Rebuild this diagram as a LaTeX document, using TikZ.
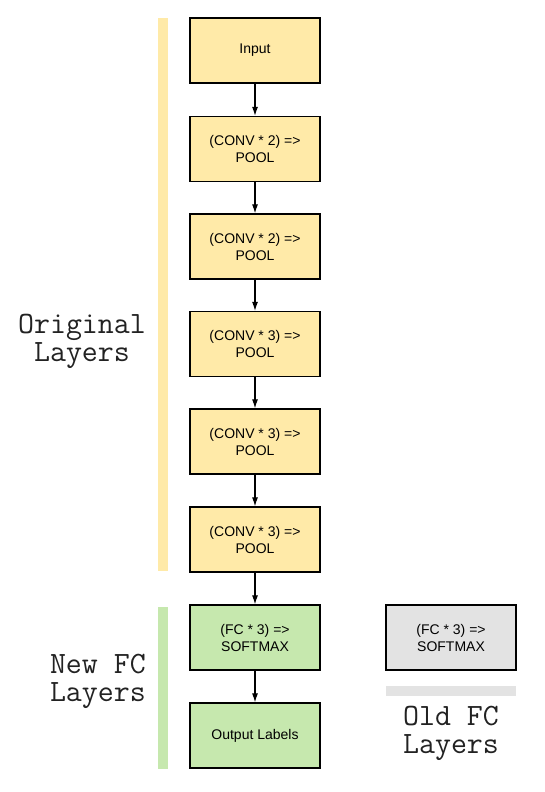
\documentclass[tikz,border=0pt]{standalone}
\usepackage{fontspec}
\setmainfont{Liberation Sans}
\usetikzlibrary{arrows.meta}
\definecolor{ylw}{HTML}{FFEAA8}
\definecolor{grn}{HTML}{C6E8AE}
\definecolor{gry}{HTML}{E3E3E3}
\definecolor{ink}{HTML}{222222}
\begin{document}
\begin{tikzpicture}[x=1pt,y=-1pt,
  layer/.style={draw=black, line width=1.3pt, minimum width=130pt, minimum height=65pt, inner sep=0pt, align=center, font=\fontsize{14}{17}\selectfont},
  yl/.style={layer, fill=ylw},
  gn/.style={layer, fill=grn},
  gy/.style={layer, fill=gry},
  conn/.style={line width=1.1pt, -{Latex[length=9pt,width=6pt]}},
  grp/.style={font=\ttfamily\fontsize{31}{28}\selectfont, text=ink, align=center, inner sep=0pt}
]
\useasboundingbox (0,0) rectangle (545,792);
\fill[ylw] (158,18) rectangle (168,571);
\fill[grn] (158,607) rectangle (168,769);
\fill[gry] (386,686) rectangle (516,696);
\node[yl] (in) at (255,50.5) {Input};
\node[yl] (c1) at (255,149) {(CONV * 2) =>\\POOL};
\node[yl] (c2) at (255,246.5) {(CONV * 2) =>\\POOL};
\node[yl] (c3) at (255,344) {(CONV * 3) =>\\POOL};
\node[yl] (c4) at (255,441.5) {(CONV * 3) =>\\POOL};
\node[yl] (c5) at (255,539.5) {(CONV * 3) =>\\POOL};
\node[gn] (fc) at (255,637.5) {(FC * 3) =>\\SOFTMAX};
\node[gn] (out) at (255,735.5) {Output Labels};
\node[gy] (old) at (451,637.5) {(FC * 3) =>\\SOFTMAX};
\draw[conn] (in) -- (c1);
\draw[conn] (c1) -- (c2);
\draw[conn] (c2) -- (c3);
\draw[conn] (c3) -- (c4);
\draw[conn] (c4) -- (c5);
\draw[conn] (c5) -- (fc);
\draw[conn] (fc) -- (out);
\node[grp] (orig) at (82,341) {Original\\Layers};
\node[grp, anchor=east] (new) at (146,681) {New FC\\Layers};
\node[grp] (oldl) at (451,733) {Old FC\\Layers};
\end{tikzpicture}
\end{document}
